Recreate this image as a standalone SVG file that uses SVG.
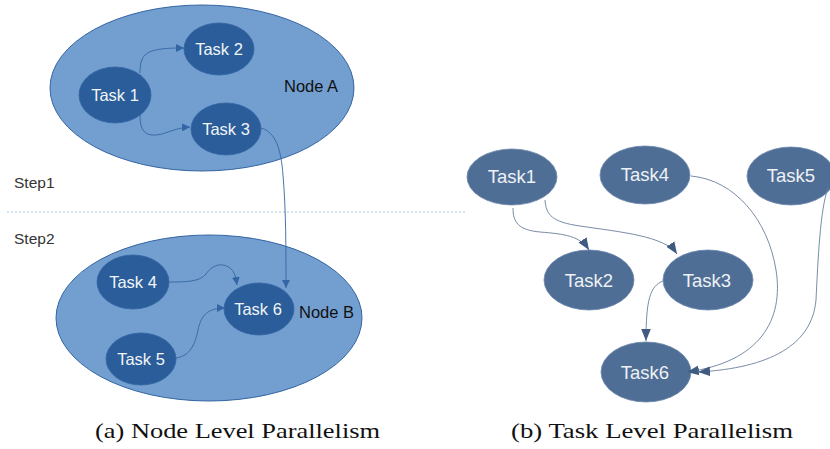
<svg xmlns="http://www.w3.org/2000/svg" width="830" height="449" viewBox="0 0 830 449">
  <defs>
    <marker id="arrA" viewBox="0 0 10 10" refX="10" refY="5" markerWidth="8" markerHeight="8" markerUnits="userSpaceOnUse" orient="auto">
      <path d="M0,0 L10,5 L0,10 Z" fill="#3465a4"/>
    </marker>
    <marker id="arrB" viewBox="0 0 10 10" refX="10" refY="5" markerWidth="12" markerHeight="12" markerUnits="userSpaceOnUse" orient="auto">
      <path d="M0,1 L10,5 L0,9 Z" fill="#3f5b80"/>
    </marker>
    <style>
      .group { fill: #729fcf; stroke: #3465a4; stroke-width: 1; }
      .taskA { fill: #2a5d99; stroke: #3465a4; stroke-width: 0.8; }
      .taskB { fill: #4f6e95; stroke: #6d88ad; stroke-width: 0.8; }
      .lblA { font-family: "Liberation Sans", Arial, sans-serif; font-size: 16.5px; fill: #f2f5f8; text-anchor: middle; }
      .lblB { font-family: "Liberation Sans", Arial, sans-serif; font-size: 18.5px; fill: #eef1f5; text-anchor: middle; }
      .plain { font-family: "Liberation Sans", Arial, sans-serif; font-size: 16.5px; fill: #111; }
      .step { font-family: "Liberation Sans", Arial, sans-serif; font-size: 15.5px; fill: #333; }
      .cap { font-family: "Liberation Serif", "Times New Roman", serif; font-size: 21px; fill: #111; }
      .edgeA { fill: none; stroke: #3465a4; stroke-width: 0.9; marker-end: url(#arrA); }
      .edgeB { fill: none; stroke: #6a7f9c; stroke-width: 0.9; marker-end: url(#arrB); }
    </style>
  </defs>

  <!-- (a) node level parallelism -->
  <g id="nodeA">
    <ellipse class="group" cx="202" cy="88" rx="152" ry="83"/>
    <text class="plain" x="284" y="92">Node A</text>
  </g>
  <g id="nodeB">
    <ellipse class="group" cx="209" cy="318" rx="153" ry="83"/>
    <text class="plain" x="299" y="318">Node B</text>
  </g>

  <g id="steps">
    <line x1="7" y1="212" x2="467" y2="212" stroke="#a9c4e2" stroke-width="1" stroke-dasharray="2,2"/>
    <text class="step" x="14" y="188">Step1</text>
    <text class="step" x="14" y="244">Step2</text>
  </g>

  <g id="a-task1"><ellipse class="taskA" cx="115" cy="95" rx="36" ry="28"/><text class="lblA" x="115" y="101">Task 1</text></g>
  <g id="a-task2"><ellipse class="taskA" cx="219" cy="49" rx="35" ry="26"/><text class="lblA" x="219" y="55">Task 2</text></g>
  <g id="a-task3"><ellipse class="taskA" cx="226" cy="129" rx="35" ry="26"/><text class="lblA" x="226" y="135">Task 3</text></g>
  <g id="a-task4"><ellipse class="taskA" cx="133" cy="282" rx="36" ry="27"/><text class="lblA" x="133" y="288">Task 4</text></g>
  <g id="a-task5"><ellipse class="taskA" cx="141" cy="359" rx="35" ry="26"/><text class="lblA" x="141" y="365">Task 5</text></g>
  <g id="a-task6"><ellipse class="taskA" cx="259" cy="309" rx="35" ry="26"/><text class="lblA" x="258" y="315">Task 6</text></g>

  <g id="edges-a">
    <path class="edgeA" d="M140,73 C140,62 142,54 152,51 C162,48 172,48 184,48"/>
    <path class="edgeA" d="M140,114 C140,124 141,134 152,135 C164,136 172,128 190,127"/>
    <path class="edgeA" d="M261,128 C276,132 281,150 283,175 C286,210 286,250 286,288"/>
    <path class="edgeA" d="M168,282 C185,282 200,282 206,274 C212,265 222,262 230,268 C235,272 236,278 237,285"/>
    <path class="edgeA" d="M176,358 C192,356 196,340 198,330 C201,316 207,308 225,308"/>
  </g>

  <!-- (b) task level parallelism -->
  <g id="b-task1"><ellipse class="taskB" cx="512" cy="177" rx="45" ry="28"/><text class="lblB" x="512" y="183">Task1</text></g>
  <g id="b-task4"><ellipse class="taskB" cx="645" cy="175" rx="45" ry="29"/><text class="lblB" x="645" y="181">Task4</text></g>
  <g id="b-task5"><ellipse class="taskB" cx="791" cy="176" rx="44" ry="29"/><text class="lblB" x="791" y="182">Task5</text></g>
  <g id="b-task2"><ellipse class="taskB" cx="589" cy="280" rx="45" ry="30"/><text class="lblB" x="589" y="287">Task2</text></g>
  <g id="b-task3"><ellipse class="taskB" cx="708" cy="280" rx="45" ry="30"/><text class="lblB" x="707" y="287">Task3</text></g>
  <g id="b-task6"><ellipse class="taskB" cx="646" cy="372" rx="45" ry="30"/><text class="lblB" x="645" y="379">Task6</text></g>

  <g id="edges-b">
    <path class="edgeB" d="M513,208 C513,222 518,230 540,232 C565,234 580,236 589,250"/>
    <path class="edgeB" d="M545,200 C546,215 552,222 580,226 C620,232 665,236 677,254"/>
    <path class="edgeB" d="M663,281 C650,286 646,300 646,341"/>
    <path class="edgeB" d="M691,176 C735,180 768,220 776,270 C784,320 760,362 687,372"/>
    <path class="edgeB" d="M828,188 C820,210 818,260 816,300 C812,345 770,368 698,372"/>
  </g>

  <g id="captions">
    <text class="cap" x="95" y="438" textLength="285" lengthAdjust="spacingAndGlyphs">(a) Node Level Parallelism</text>
    <text class="cap" x="511" y="438" textLength="282" lengthAdjust="spacingAndGlyphs">(b) Task Level Parallelism</text>
  </g>
</svg>
